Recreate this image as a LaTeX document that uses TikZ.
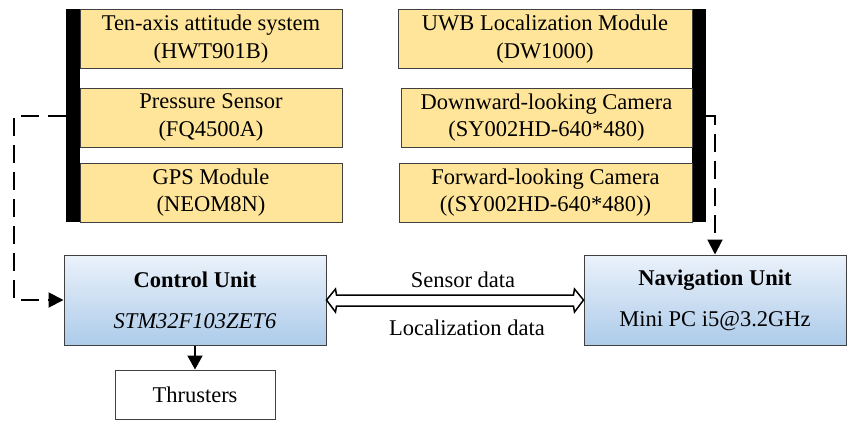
\documentclass[tikz,border=0pt]{standalone}
\usepackage{fontspec}
\setmainfont{Liberation Serif}
\usetikzlibrary{arrows.meta,calc}
\definecolor{sensorfill}{HTML}{FFE599}
\definecolor{boxline}{HTML}{404040}
\definecolor{unittop}{HTML}{EBF2FA}
\definecolor{unitbot}{HTML}{ADCBEA}
\tikzset{
  sensorbox/.style={draw=boxline, line width=1pt, fill=sensorfill, align=center,
    minimum height=59pt, inner sep=0pt},
  bar/.style={fill=black, draw=none},
  unitbox/.style={draw=boxline, line width=1pt, top color=unittop, bottom color=unitbot,
    align=center, minimum width=262pt, minimum height=90pt, inner sep=0pt},
  plainbox/.style={draw=boxline, line width=1pt, fill=white, minimum width=160pt,
    minimum height=49pt, inner sep=0pt},
  dashconn/.style={line width=2pt, dash pattern=on 18pt off 9pt, -{Triangle[length=15pt,width=15pt]}},
  solidconn/.style={line width=2pt, -{Triangle[length=14pt,width=15pt]}},
  hollowarrow/.style={draw=black, fill=white, line width=1.5pt, line join=miter},
  lbl/.style={inner sep=0pt, anchor=base}
}
\begin{document}
\begin{tikzpicture}[x=1pt, y=-1pt, font=\fontsize{22.5}{27.5}\selectfont]
\useasboundingbox (0,0) rectangle (848,421);
% bars
\fill[bar] (66,9) rectangle (80,222);
\fill[bar] (692,9) rectangle (706,222);
\coordinate (lbar) at (66,116);
\coordinate (rbar) at (706,116);
% left sensors
\node[sensorbox, minimum width=262pt] (s1) at (211,39) {Ten-axis attitude system\\(HWT901B)};
\node[sensorbox, minimum width=262pt] (s2) at (211,117.5) {Pressure Sensor\\(FQ4500A)};
\node[sensorbox, minimum width=262pt] (s3) at (211,192.5) {GPS Module\\(NEOM8N)};
% right sensors
\node[sensorbox, minimum width=294pt] (r1) at (545,39) {UWB Localization Module\\(DW1000)};
\node[sensorbox, minimum width=291pt] (r2) at (546.5,117.5) {Downward-looking Camera\\(SY002HD-640*480)};
\node[sensorbox, minimum width=293pt] (r3) at (545.5,192.5) {Forward-looking Camera\\((SY002HD-640*480))};
% units
\node[unitbox] (cu) at (195,300) {\textbf{Control Unit}\\[13.5pt]\textit{STM32F103ZET6}};
\node[unitbox] (nu) at (715,300) {\textbf{Navigation Unit}\\[13.5pt]Mini PC i5@3.2GHz};
\node[plainbox] (th) at (195,394.5) {Thrusters};
% connectors
\draw[dashconn] (lbar) -- (14,116) -- (14,300) -- (cu.west);
\draw[dashconn] (rbar) -- (715,116) -- (nu.north);
\draw[solidconn] (cu.south) -- (th.north);
\draw[hollowarrow] ($(cu.east)+(10,-5)$) -- ($(nu.west)+(-10,-5)$) -- ($(nu.west)+(-9,-11)$)
  -- (nu.west) -- ($(nu.west)+(-9,12)$) -- ($(nu.west)+(-10,6)$) -- ($(cu.east)+(10,6)$)
  -- ($(cu.east)+(9,12)$) -- (cu.east) -- ($(cu.east)+(9,-11)$) -- cycle;
\node[lbl] (sd) at (463,287) {Sensor data};
\node[lbl] (ld) at (467,335) {Localization data};
\end{tikzpicture}
\end{document}
